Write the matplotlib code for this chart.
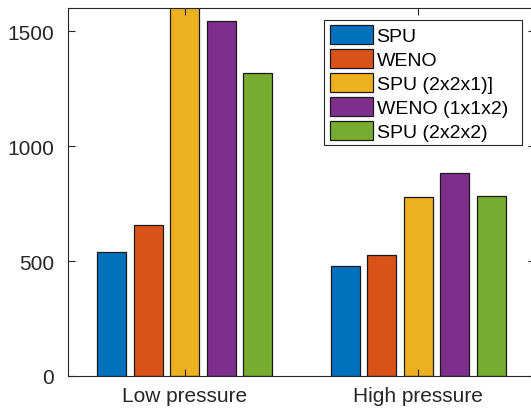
import numpy as np
import matplotlib.pyplot as plt
from matplotlib.patches import Rectangle

plt.rcParams['font.family'] = ['Liberation Sans', 'DejaVu Sans']

groups = ['Low pressure', 'High pressure']
series = ['SPU', 'WENO', 'SPU (2x2x1)]', 'WENO (1x1x2)', 'SPU (2x2x2)']
values = [
    [541, 478],
    [657, 527],
    [1700, 778],
    [1545, 882],
    [1317, 782],
]
colors = ['#0072BD', '#D95319', '#EDB120', '#7E2F8E', '#77AC30']

fig = plt.figure(figsize=(5.31, 4.10), dpi=100)
ax = fig.add_axes([68 / 531, 33 / 410, 467 / 531, 367.7 / 410])

x = np.arange(1, len(groups) + 1)
step = 0.156
width = 0.124
for i, (name, vals) in enumerate(zip(series, values)):
    ax.bar(x + (i - 2) * step, vals, width, color=colors[i], edgecolor='#1a1a1a',
           linewidth=0.9, label=name)

ax.set_xlim(0.5, 2.5)
ax.set_ylim(0, 1600)
ax.set_xticks(x)
ax.set_xticklabels(groups)
ax.set_yticks([0, 500, 1000, 1500])
ax.tick_params(direction='in', length=5, width=0.8, labelsize=15, colors='#262626',
               top=True, right=True)
ax.tick_params(axis='x', pad=7)
ax.tick_params(axis='y', pad=10)
for s in ax.spines.values():
    s.set_color('#262626')
    s.set_linewidth(0.8)

# legend without its own frame, box drawn separately (MATLAB-style wide box)
leg = ax.legend(loc='upper left', bbox_to_anchor=(258 / 467, 0.966), fontsize=14,
                frameon=False, handlelength=2.2, handleheight=1.15, handletextpad=0.2,
                labelspacing=0.2, borderpad=0.2, borderaxespad=0)
for h in leg.legend_handles:
    h.set_linewidth(0.9)
frame = Rectangle(((324 - 68) / 467, (377 - 146) / 367.7), 198 / 467, 125 / 367.7,
                  transform=ax.transAxes, facecolor='white', edgecolor='#262626',
                  linewidth=0.8, zorder=4)
ax.add_patch(frame)
leg.set_zorder(5)

fig.savefig('out.png', dpi=100)
